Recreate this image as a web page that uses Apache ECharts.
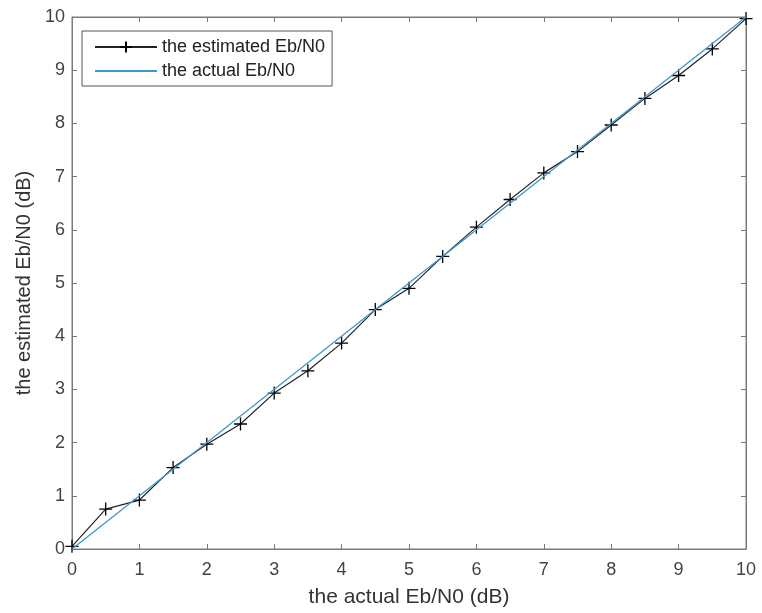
<!DOCTYPE html>
<html>
<head>
<meta charset="utf-8">
<script src="https://cdn.jsdelivr.net/npm/echarts@6/dist/echarts.min.js"></script>
<style>html,body{margin:0;padding:0;background:#fff}#c{width:762px;height:613px}</style>
</head>
<body>
<div id="c"></div>
<script>
const actualX = [0,0.5,1,1.5,2,2.5,3,3.5,4,4.5,5,5.5,6,6.5,7,7.5,8,8.5,9,9.5,10];
const estimated = [0.05,0.75,0.92,1.53,1.97,2.35,2.93,3.35,3.87,4.5,4.9,5.5,6.05,6.57,7.07,7.47,7.97,8.47,8.9,9.4,9.97];
const actualLine = [0,10];
const actualLineX = [0,10];

const axisColor = '#7a7a7a';
const font = 'Liberation Sans, Arial, sans-serif';
const chart = echarts.init(document.getElementById('c'));
function mkAxis(pos, extra) {
  return Object.assign({
    type: 'value', min: 0, max: 10, interval: 1, position: pos,
    axisLine: {show: true, onZero: false, lineStyle: {color: axisColor, width: 1}},
    axisTick: {show: true, inside: true, length: 5, lineStyle: {color: axisColor, width: 1}},
    splitLine: {show: false},
    axisLabel: {show: pos === 'bottom' || pos === 'left', color: '#444', fontFamily: font, fontSize: 18, margin: pos === 'bottom' ? 12 : 7}
  }, extra || {});
}
chart.setOption({
  animation: false,
  grid: {left: 72, right: 16, top: 17, bottom: 62, show: true, borderColor: axisColor, borderWidth: 1, backgroundColor: 'transparent'},
  xAxis: [
    mkAxis('bottom', {name: 'the actual Eb/N0 (dB)', nameLocation: 'middle', nameGap: 38,
      nameTextStyle: {color: '#333', fontFamily: font, fontSize: 21}}),
    mkAxis('top')
  ],
  yAxis: [
    mkAxis('left', {name: 'the estimated Eb/N0 (dB)', nameLocation: 'middle', nameGap: 38,
      nameTextStyle: {color: '#333', fontFamily: font, fontSize: 20}}),
    mkAxis('right')
  ],
  legend: {
    orient: 'vertical', left: 82, top: 31,
    data: [
      {name: 'the estimated Eb/N0'},
      {name: 'the actual Eb/N0', itemStyle: {opacity: 0}}
    ],
    backgroundColor: '#fff', borderColor: '#555', borderWidth: 1,
    padding: [6, 7, 5, 12], itemGap: 4, itemWidth: 62, itemHeight: 14,
    textStyle: {color: '#222', fontFamily: font, fontSize: 18, lineHeight: 20}
  },
  series: [
    {
      name: 'the estimated Eb/N0', type: 'line', xAxisIndex: 0, yAxisIndex: 0,
      data: actualX.map((x, i) => [x, estimated[i]]),
      lineStyle: {color: '#222', width: 1.2},
      symbol: 'path://M0,5L10,5M5,0L5,10', symbolSize: 13, showAllSymbol: true,
      itemStyle: {color: '#000', borderColor: '#000', borderWidth: 1.3},
      z: 2
    },
    {
      name: 'the actual Eb/N0', type: 'line', xAxisIndex: 0, yAxisIndex: 0,
      data: actualLineX.map((x, i) => [x, actualLine[i]]),
      lineStyle: {color: '#3d98cf', width: 1.3},
      itemStyle: {color: '#3d98cf'},
      symbol: 'none',
      z: 3
    },
    {
      name: 'box', type: 'line', xAxisIndex: 1, yAxisIndex: 1,
      data: actualLineX.map((x, i) => [x, actualLine[i]]),
      lineStyle: {opacity: 0}, symbol: 'none', silent: true, tooltip: {show: false}
    }
  ]
});
</script>
</body>
</html>
